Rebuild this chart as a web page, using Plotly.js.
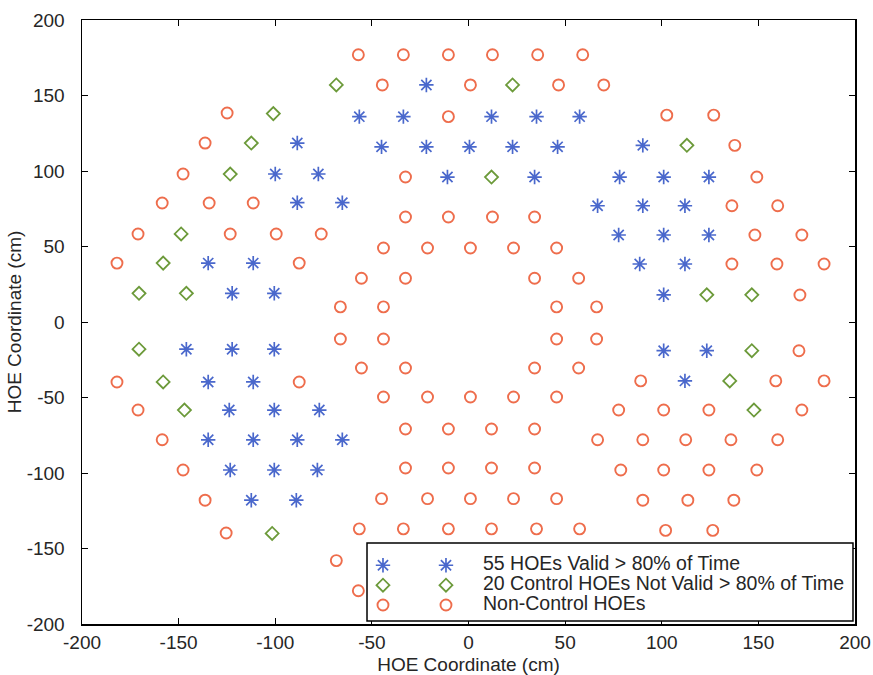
<!DOCTYPE html>
<html>
<head>
<meta charset="utf-8">
<script src="https://cdn.plot.ly/plotly-3.0.1.min.js"></script>
<style>
  html, body { margin: 0; padding: 0; background: #ffffff; }
  #chart { width: 873px; height: 675px; }
</style>
</head>
<body>
<div id="chart"></div>
<script>
// ---- Data (HOE coordinates in cm) ----
const seriesNames = [
  "55 HOEs Valid > 80% of Time",
  "20 Control HOEs Not Valid > 80% of Time",
  "Non-Control HOEs"
];

const tickValues = [-200, -150, -100, -50, 0, 50, 100, 150, 200];
const tickLabels = ["-200", "-150", "-100", "-50", "0", "50", "100", "150", "200"];

// 55 valid HOEs (blue asterisks)
const validX = [
  -21.8,
  -56.5, -33.7, 11.9, 35.2, 57.5,
  -45, -21.8, 0.5, 22.8, 46.1,
  -10.9, 34.2,
  -88.6,
  -100, -77.7,
  -88.6, -65.3,
  -134.7, -111.4,
  -122.3, -100.5,
  -146, -122.3, -100.5,
  -134.7, -111.4,
  -123.8, -100.5, -77.2,
  -134.7, -111.4, -88.6, -65.3,
  -123.3, -100.5, -78.2,
  -112.4, -89.1,
  90.2,
  78.2, 101, 124.4,
  66.8, 90.2, 112,
  77.7, 101, 124.4,
  88.6, 112,
  101,
  101, 123.3,
  112
];
const validY = [
  157,
  136, 136, 136, 136, 136,
  116, 116, 116, 116, 116,
  96, 96,
  118.5,
  98, 98,
  79, 79,
  39, 39,
  19, 19,
  -18, -18, -18,
  -39.7, -39.7,
  -58.3, -58.3, -58.3,
  -78, -78, -78, -78,
  -98, -98, -98,
  -118, -118,
  117,
  96, 96, 96,
  77, 77, 77,
  57.6, 57.6, 57.6,
  38.4, 38.4,
  18,
  -19, -19,
  -39
];

// 20 control HOEs not valid (green diamonds)
const controlX = [
  -68.4, 22.8, 11.9,
  -101, -112.4, -123.3, -148.7, -158, -170.5, -146,
  -170.5, -158, -147, -101.6,
  113, 123.3, 146.6, 146.6, 135.2, 147.7
];
const controlY = [
  157, 157, 96,
  138, 118.5, 98, 58.3, 39, 19, 19,
  -18, -39.7, -58.3, -140,
  117, 18, 18, -19, -39, -58.3
];

// Non-control HOEs (orange circles)
const otherX = [
  -57, -33.7, -10.4, 12.4, 35.8, 59.1,
  -44.6, 1, 46.6, 70,
  -10.4,
  -32.6,
  -32.6, -10.4, 12.4, 34.2,
  -44, -21.2, 1, 23.3, 45.6,
  -55.4, -32.6, 34.2, 57,
  -66.3, -44, 45.6, 66.3,
  -66.3, -44, 45.6, 66.3,
  -55.4, -32.6, 34.2, 57,
  -44, -21.2, 1, 23.3, 45.6,
  -32.6, -10.4, 11.9, 34.2,
  -32.6, -10.4, 11.9, 34.2,
  -45, -21.2, 1, 23.3, 45.6,
  -56.5, -33.7, -10.4, 11.9, 35.2, 57.5,
  -68.4,
  -57,
  -124.9,
  -136.3,
  -147.7,
  -158.5, -134.2, -111.4,
  -171, -123.3, -99.5, -76.2,
  -181.9, -87.6,
  -181.9, -87.6,
  -171,
  -158.5,
  -147.7,
  -136.3,
  -125.4,
  102.6, 126.9,
  137.8,
  149.2,
  136.3, 160,
  148.2, 172.5,
  136.3, 159.6, 184,
  171.5,
  171,
  89.1, 159, 184,
  77.7, 101, 124.4, 172.5,
  66.8, 90.2, 112.4, 135.8, 160,
  78.8, 101, 124.4, 149.2,
  90.2, 113.5, 137.3,
  102, 126.4
];
const otherY = [
  177, 177, 177, 177, 177, 177,
  157, 157, 157, 157,
  136,
  96,
  69.5, 69.5, 69.5, 69.5,
  49, 49, 49, 49, 49,
  29, 29, 29, 29,
  10, 10, 10, 10,
  -11.3, -11.3, -11.3, -11.3,
  -30.5, -30.5, -30.5, -30.5,
  -49.7, -49.7, -49.7, -49.7, -49.7,
  -70.9, -70.9, -70.9, -70.9,
  -96.7, -96.7, -96.7, -96.7,
  -117, -117, -117, -117, -117,
  -137, -137, -137, -137, -137, -137,
  -158,
  -178,
  138.4,
  118.5,
  98,
  78.8, 78.8, 78.8,
  58.3, 58.3, 58.3, 58.3,
  39, 39,
  -39.7, -39.7,
  -58.3,
  -78,
  -98,
  -118,
  -139.7,
  137, 137,
  117,
  96,
  77, 77,
  57.6, 57.6,
  38.4, 38.4, 38.4,
  17.9,
  -19,
  -39, -39, -39,
  -58.3, -58.3, -58.3, -58.3,
  -78, -78, -78, -78, -78,
  -98, -98, -98, -98,
  -118, -118, -118,
  -138, -138
];

// ---- Styles ----
const blue = "#4a68cc";
const green = "#6c9a3a";
const orange = "#ee6d4c";
const txt = "#262626";
const FONT = "Liberation Sans, Arial, Helvetica, sans-serif";

const markerStyles = [
  { symbol: "asterisk-open", size: 12, color: blue, line: { color: blue, width: 1.7 } },
  { symbol: "diamond-open", size: 10, color: green, line: { color: green, width: 1.8 } },
  { symbol: "circle-open", size: 11, color: orange, line: { color: orange, width: 1.9 } }
];

const xs = [validX, controlX, otherX];
const ys = [validY, controlY, otherY];

const traces = [];
for (let i = 0; i < 3; i++) {
  traces.push({
    type: "scatter",
    mode: "markers",
    x: xs[i],
    y: ys[i],
    name: '<span style="font-size:19.5px">' + seriesNames[i] + '</span>',
    marker: markerStyles[i],
    legend: "legend",
    showlegend: true,
    hoverinfo: "x+y"
  });
}
// first key column of the legend (MATLAB-style double marker sample)
for (let i = 0; i < 3; i++) {
  traces.push({
    type: "scatter",
    mode: "markers",
    x: [null],
    y: [null],
    name: " ",
    marker: markerStyles[i],
    legend: "legend2",
    showlegend: true,
    hoverinfo: "skip"
  });
}

function axisStyle(titleText, isY) {
  return {
    range: [-200, 200],
    tickmode: "array",
    tickvals: tickValues,
    ticktext: tickLabels,
    ticks: "inside",
    ticklen: 6,
    tickwidth: 1,
    tickcolor: "#000",
    showline: true,
    linecolor: "#000",
    linewidth: 1.5,
    mirror: "ticks",
    showgrid: false,
    zeroline: false,
    automargin: false,
    tickfont: { family: FONT, size: 19, color: txt },
    ticklabelstandoff: isY ? 12 : 1,
    title: { text: titleText, font: { family: FONT, size: 19, color: txt }, standoff: isY ? 0 : 12 }
  };
}

const layout = {
  width: 873,
  height: 675,
  margin: { l: 82, r: 18, t: 20, b: 51, pad: 0 },
  paper_bgcolor: "#ffffff",
  plot_bgcolor: "#ffffff",
  font: { family: FONT, color: txt },
  xaxis: axisStyle("HOE Coordinate (cm)", false),
  yaxis: axisStyle("HOE Coordinate (cm)", true),
  showlegend: true,
  legend: {
    x: 0.423, y: 0.122, xanchor: "left", yanchor: "top",
    bgcolor: "rgba(0,0,0,0)", borderwidth: 0,
    itemwidth: 64, traceorder: "normal",
    font: { family: FONT, size: 13, color: txt },
    itemclick: false, itemdoubleclick: false
  },
  legend2: {
    x: 0.3635, y: 0.122, xanchor: "left", yanchor: "top",
    bgcolor: "rgba(0,0,0,0)", borderwidth: 0,
    itemwidth: 30, traceorder: "normal",
    font: { family: FONT, size: 13, color: txt },
    itemclick: false, itemdoubleclick: false
  },
  shapes: [{
    type: "rect", xref: "paper", yref: "paper",
    x0: 0.3687, x1: 0.9974, y0: 0.005, y1: 0.1341,
    line: { color: "#000", width: 1.5 },
    fillcolor: "#ffffff",
    layer: "above"
  }]
};

Plotly.newPlot("chart", traces, layout, { displayModeBar: false, staticPlot: true });
</script>
</body>
</html>
